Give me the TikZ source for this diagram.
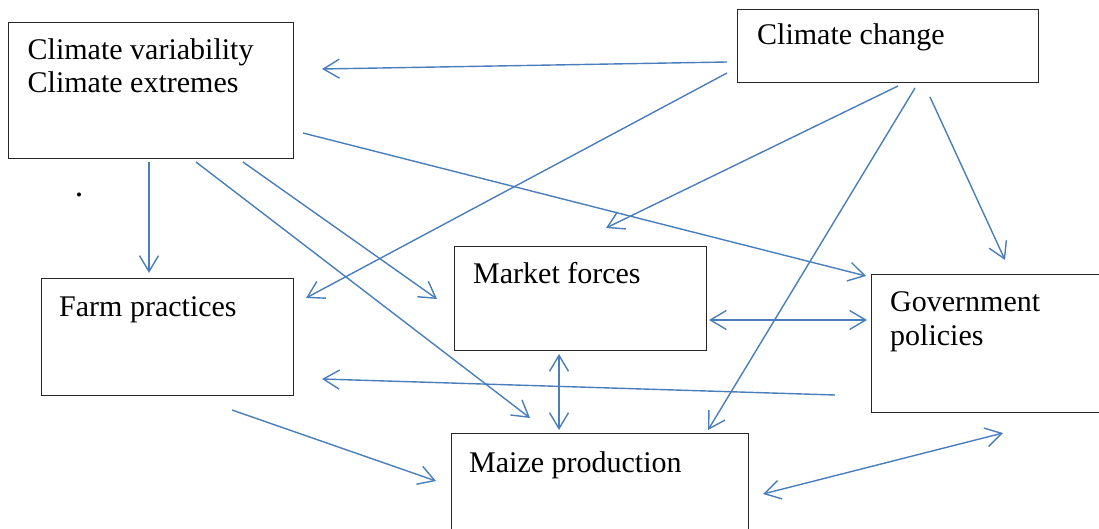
\documentclass[tikz,border=0pt]{standalone}
\usepackage{fontspec}
\setmainfont{Liberation Serif}
\usetikzlibrary{arrows.meta}
\definecolor{linkblue}{RGB}{74,126,187}
\tikzstyle{factor} = [rectangle, draw=black!85, line width=1.2pt, anchor=north west, inner sep=0pt]
\tikzstyle{factor_text} = [anchor=base west, inner sep=0pt, align=left, font=\fontsize{30}{33.5}\selectfont]
\tikzstyle{link} = [line width=1.4pt, linkblue, -{Straight Barb[length=16pt,width=19pt]}]
\tikzstyle{two_way} = [line width=1.4pt, linkblue, {Straight Barb[length=16pt,width=19pt]}-{Straight Barb[length=16pt,width=19pt]}]

\begin{document}
\begin{tikzpicture}[x=1pt, y=-1pt]

    \useasboundingbox (0,0) rectangle (1099,529);
    \clip (0,0) rectangle (1099,529);

    % boxes
    \node (variability) [factor, minimum width=285, minimum height=136] at (8,22) {};
    \node (change) [factor, minimum width=301, minimum height=73] at (737,9) {};
    \node (farm) [factor, minimum width=252, minimum height=117] at (41,278) {};
    \node (market) [factor, minimum width=252, minimum height=104] at (454,246) {};
    \node (policies) [factor, minimum width=260, minimum height=138] at (871,274) {};
    \node (maize) [factor, minimum width=297, minimum height=130] at (451,433) {};

    % texts (base = baseline of the last line)
    \node (variability_text) [factor_text] at (27.5,93) {Climate variability\\Climate extremes};
    \node (change_text) [factor_text] at (757,45) {Climate change};
    \node (farm_text) [factor_text] at (59,316) {Farm practices};
    \node (market_text) [factor_text] at (473,283) {Market forces};
    \node (policies_text) [factor_text] at (890,345) {Government\\policies};
    \node (maize_text) [factor_text] at (469,472) {Maize production};
    \node (stray_dot) [factor_text, anchor=base, font=\fontsize{34}{34}\selectfont] at (79,197) {.};

    % free ends of the connectors
    \coordinate (cc_a) at (727,62);   \coordinate (cv_in) at (322,69);
    \coordinate (cc_b) at (727,73);   \coordinate (fp_in_a) at (306,298);
    \coordinate (cc_c) at (898,86);   \coordinate (mf_in_a) at (606,228);
    \coordinate (cc_d) at (915,88);   \coordinate (mp_in_a) at (708,430);
    \coordinate (cc_e) at (930,97);   \coordinate (gp_in_a) at (1005,260);

    \coordinate (cv_a) at (149,162);  \coordinate (fp_in_b) at (149,273);
    \coordinate (cv_b) at (243,162);  \coordinate (mf_in_b) at (437,299);
    \coordinate (cv_c) at (196,162);  \coordinate (mp_in_b) at (530,418);
    \coordinate (cv_d) at (303,133);  \coordinate (gp_in_b) at (866,276);

    \coordinate (mf_right) at (709,320);  \coordinate (gp_left) at (867,320);
    \coordinate (mf_bottom) at (559,354); \coordinate (mp_top) at (559,430);
    \coordinate (gp_out) at (835,395);    \coordinate (fp_in_c) at (322,379);
    \coordinate (fp_out) at (232,410);    \coordinate (mp_in_c) at (436,481);
    \coordinate (mp_right) at (763,494);  \coordinate (gp_below) at (1003,433);

    % climate change
    \draw [link] (cc_a) -- (cv_in);
    \draw [link] (cc_b) -- (fp_in_a);
    \draw [link] (cc_c) -- (mf_in_a);
    \draw [link] (cc_d) -- (mp_in_a);
    \draw [link] (cc_e) -- (gp_in_a);

    % climate variability
    \draw [link] (cv_a) -- (fp_in_b);
    \draw [link] (cv_b) -- (mf_in_b);
    \draw [link] (cv_c) -- (mp_in_b);
    \draw [link] (cv_d) -- (gp_in_b);

    % the rest
    \draw [two_way] (mf_right) -- (gp_left);
    \draw [two_way] (mf_bottom) -- (mp_top);
    \draw [link] (gp_out) -- (fp_in_c);
    \draw [link] (fp_out) -- (mp_in_c);
    \draw [two_way] (mp_right) -- (gp_below);

\end{tikzpicture}
\end{document}
